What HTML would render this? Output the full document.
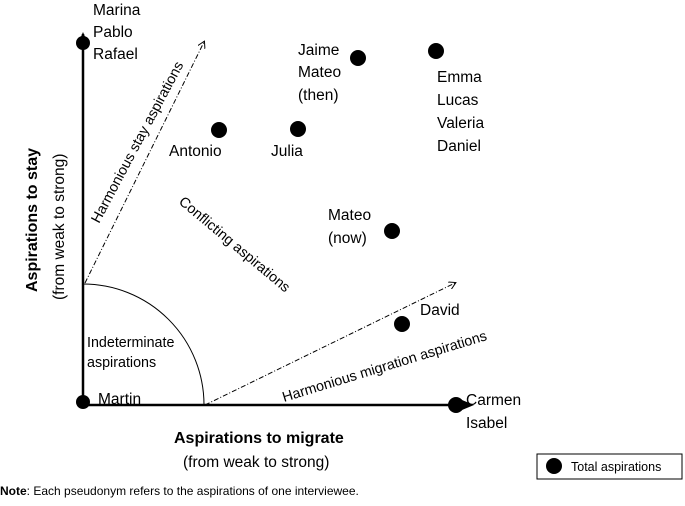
<!DOCTYPE html>
<html><head><style>
body{margin:0;background:#fff}
svg text{font-family:"Liberation Sans",sans-serif;fill:#000}
</style></head><body>
<svg width="685" height="501" viewBox="0 0 685 501" xmlns="http://www.w3.org/2000/svg">
<defs><marker id="a" markerWidth="8" markerHeight="8" refX="6" refY="4" orient="auto"><path d="M0,0 L7,4 L0,8" fill="none" stroke="#000" stroke-width="1"/></marker></defs>
<line x1="83" y1="405" x2="83" y2="34" stroke="#000" stroke-width="2.5"/>
<path d="M78,44 L83,32 L88,44 Z"/>
<line x1="82" y1="405" x2="470" y2="405" stroke="#000" stroke-width="2.5"/>
<path d="M462,400 L474,405 L462,410 Z"/>
<path d="M83,284 A121,121 0 0 1 204,405" fill="none" stroke="#000" stroke-width="1"/>
<line x1="85" y1="283" x2="204" y2="42" stroke="#000" stroke-width="1" stroke-dasharray="5,2,1,2" marker-end="url(#a)"/>
<line x1="205" y1="405" x2="455" y2="283" stroke="#000" stroke-width="1" stroke-dasharray="5,2,1,2" marker-end="url(#a)"/>
<g fill="#000">
<circle cx="83" cy="43" r="7"/><circle cx="83" cy="402" r="7"/><circle cx="456" cy="405" r="8"/>
<circle cx="219" cy="130" r="8"/><circle cx="298" cy="129" r="8"/><circle cx="358" cy="58" r="8"/>
<circle cx="436" cy="51" r="8"/><circle cx="392" cy="231" r="8"/><circle cx="402" cy="324" r="8"/>
<circle cx="554" cy="466" r="8"/>
</g>
<g font-size="15.5">
<text x="93" y="15">Marina</text><text x="93" y="37">Pablo</text><text x="93" y="59">Rafael</text>
<text x="298" y="55">Jaime</text><text x="298" y="77">Mateo</text><text x="298" y="100">(then)</text>
<text x="437" y="82">Emma</text><text x="437" y="105">Lucas</text><text x="437" y="128">Valeria</text><text x="437" y="151">Daniel</text>
<text x="169" y="156">Antonio</text><text x="271" y="156">Julia</text>
<text x="328" y="220">Mateo</text><text x="328" y="243">(now)</text>
<text x="420" y="315">David</text>
<text x="98" y="404">Martin</text>
<text x="466" y="405">Carmen</text><text x="466" y="428">Isabel</text>
<text x="183" y="467">(from weak to strong)</text>
<text x="571" y="471" font-size="12.5">Total aspirations</text>
</g>
<g font-size="14.3">
<text x="87" y="347">Indeterminate</text><text x="87" y="367">aspirations</text>
<text transform="translate(99,224) rotate(-62)">Harmonious stay aspirations</text>
<text transform="translate(178,203) rotate(40)">Conflicting aspirations</text>
<text transform="translate(284,402) rotate(-17)">Harmonious migration aspirations</text>
</g>
<text x="174" y="443" font-size="16" font-weight="bold">Aspirations to migrate</text>
<text transform="translate(37,292) rotate(-90)" font-size="16" font-weight="bold">Aspirations to stay</text>
<text transform="translate(64,300) rotate(-90)" font-size="15.5">(from weak to strong)</text>
<rect x="537" y="454" width="145" height="25" fill="none" stroke="#000" stroke-width="1"/>
<text x="0" y="495" font-size="12"><tspan font-weight="bold">Note</tspan>: Each pseudonym refers to the aspirations of one interviewee.</text>
</svg>
</body></html>
